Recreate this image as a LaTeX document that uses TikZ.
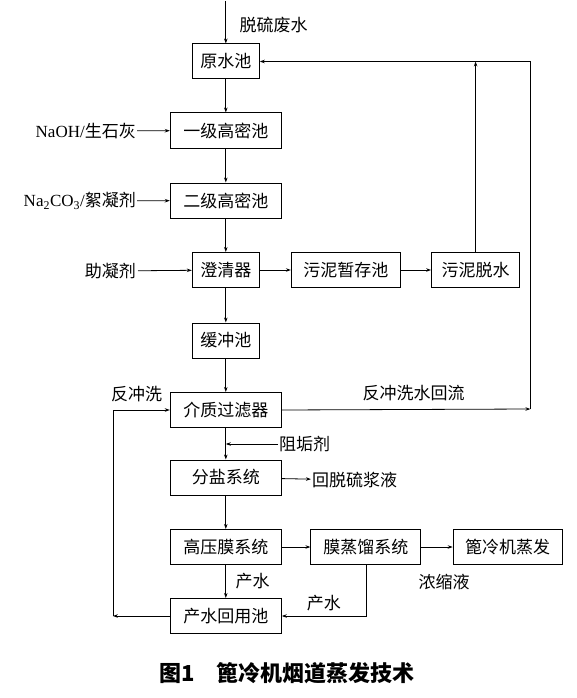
\documentclass[tikz,border=0pt]{standalone}
\usepackage{fontspec}
\setmainfont{Liberation Serif}
\newfontfamily\cjk{Noto Sans CJK SC}
\usetikzlibrary{arrows.meta}

\begin{document}
\begin{tikzpicture}[x=1pt, y=-1pt,
  every node/.style={font=\cjk\fontsize{17}{20}\selectfont},
  box/.style={draw, line width=1pt, minimum height=35pt, inner sep=0pt},
  flow/.style={line width=0.8pt, -{Stealth[length=5pt,width=3.5pt]}},
  pipe/.style={line width=0.8pt}]
\useasboundingbox (0,0) rectangle (576,698);

% ---------- MAIN LINE ----------
\node[box, minimum width=67pt]  (yuanshui)  at (225.8,61.5)  {原水池};
\node[box, minimum width=111pt] (yiji)      at (225.8,130.5) {一级高密池};
\node[box, minimum width=111pt] (erji)      at (225.8,200.5) {二级高密池};
\node[box, minimum width=67pt]  (chengqing) at (225.8,270)   {澄清器};
\node[box, minimum width=67pt]  (huanchong) at (225.8,340.5) {缓冲池};
\node[box, minimum width=111pt] (jiezhi)    at (225.8,410)   {介质过滤器};
\node[box, minimum width=111pt] (fenyan)    at (225.8,477.5) {分盐系统};
\node[box, minimum width=111pt] (gaoya)     at (225.8,547)   {高压膜系统};
\node[box, minimum width=111pt] (chanshui)  at (225.8,616)   {产水回用池};

% ---------- SIDE BOXES ----------
\node[box, minimum width=109pt] (wuni)      at (345.9,270) {污泥暂存池};
\node[box, minimum width=88pt]  (tuoshui)   at (475.6,270) {污泥脱水};
\node[box, minimum width=110pt] (mozl)      at (365.9,547) {膜蒸馏系统};
\node[box, minimum width=109pt] (bileng)    at (507.7,547) {篦冷机蒸发};

% ---------- INPUTS ----------
\coordinate (in) at (225.8,1);
\node[anchor=west] (feishui) at (236,25) {脱硫废水};
\node[anchor=east, inner sep=1pt] (naoh) at (137,131) {{\rmfamily NaOH/}生石灰};
\node[anchor=east, inner sep=1pt] (na2co3) at (137,201) {{\rmfamily Na\textsubscript{2}CO\textsubscript{3}/}絮凝剂};
\node[anchor=east, inner sep=2pt] (zhuning) at (138,271) {助凝剂};
\node[anchor=west, inner sep=1pt] (zugou) at (278,444) {阻垢剂};
\node[anchor=west, inner sep=1pt] (huituo) at (311,480) {回脱硫浆液};

% ---------- FLOW ----------
\draw[flow] (in) -- (yuanshui);
\draw[flow] (yuanshui) -- (yiji);
\draw[flow] (naoh) -- (yiji);
\draw[flow] (yiji) -- (erji);
\draw[flow] (na2co3) -- (erji);
\draw[flow] (erji) -- (chengqing);
\draw[flow] (zhuning) -- (chengqing);
\draw[flow] (chengqing) -- (wuni);
\draw[flow] (wuni) -- (tuoshui);
\draw[flow] (chengqing) -- (huanchong);
\draw[flow] (huanchong) -- (jiezhi);
\draw[flow] (jiezhi) -- (fenyan);
\draw[flow] (zugou.west) -- (zugou.west -| jiezhi.south);
\draw[flow] (fenyan) -- (huituo);
\draw[flow] (fenyan) -- (gaoya);
\draw[flow] (gaoya) -- (mozl);
\draw[flow] (mozl) -- (bileng);
\draw[flow] (gaoya) -- (chanshui) node[midway, right=6pt] {产水};
\draw[flow] (mozl.south) |- (chanshui.east) node[pos=0.75, above=1pt] {产水};
\node (nongsuo) at (444,582) {浓缩液};

% ---------- RETURN LINES ----------
\coordinate (ret) at (530.4,409);
\coordinate (back) at (112.9,616);
\draw[flow] (tuoshui.north) -- (tuoshui.north |- yuanshui.east);
\draw[flow] (jiezhi.east) -- (ret) node[pos=0.53, above=5pt] {反冲洗水回流};
\draw[flow] (ret) |- (yuanshui.east);
\draw[flow] (chanshui.west) -- (back);
\draw[flow] (back) |- (jiezhi.west);
\node (fanchong) at (136.5,394) {反冲洗};

% ---------- CAPTION ----------
\node[font=\cjk\bfseries\fontsize{22}{26}\selectfont] (caption) at (287,673)
  {图1\hspace{22pt}篦冷机烟道蒸发技术};

\end{tikzpicture}
\end{document}
